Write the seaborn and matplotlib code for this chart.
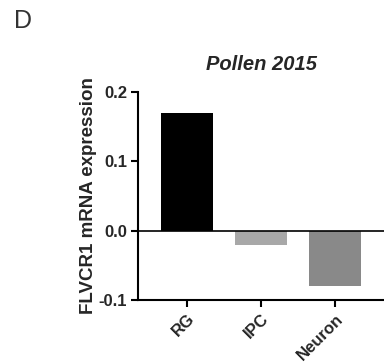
import matplotlib
matplotlib.use("Agg")
import matplotlib.pyplot as plt
import seaborn as sns
import pandas as pd

# Cell-type expression values
cell_types = ["RG", "IPC", "Neuron"]
expression = [0.17, -0.02, -0.08]
bar_colors = ["#000000", "#a8a8a8", "#898989"]
y_ticks = [-0.1, 0.0, 0.1, 0.2]
y_tick_labels = ["-0.1", "0.0", "0.1", "0.2"]

sns.set_theme(style="ticks")
plt.rcParams["font.family"] = ["Liberation Sans", "DejaVu Sans"]

df = pd.DataFrame({"cell": cell_types, "value": expression})

fig = plt.figure(figsize=(3.84, 3.62), dpi=100)
ax = fig.add_axes([138 / 384, 1 - 300 / 362, 1 - 138 / 384, (300 - 92) / 362])

sns.barplot(data=df, x="cell", y="value", hue="cell", palette=bar_colors,
            width=0.7, legend=False, ax=ax, saturation=1, edgecolor="none")

ax.axhline(0, color="black", lw=1.2, zorder=3)
ax.set_xlim(-0.66, 2.66)
ax.set_ylim(-0.1, 0.2)
ax.set_yticks(y_ticks)
ax.set_yticklabels(y_tick_labels, fontsize=12, fontweight="bold")
ax.set_xticks(range(len(cell_types)))
ax.set_xticklabels(cell_types, fontsize=12, fontweight="bold",
                   rotation=45, ha="right", rotation_mode="anchor")
ax.tick_params(axis="both", length=5, width=1.5, color="black", pad=3)
ax.set_xlabel("")
ax.set_ylabel("FLVCR1 mRNA expression", fontsize=13.5, fontweight="bold", labelpad=1)
for s in ["left", "bottom"]:
    ax.spines[s].set_linewidth(1.5)
    ax.spines[s].set_color("black")
sns.despine(ax=ax)

ax.set_title("Pollen 2015", fontsize=14.5, fontweight="bold", style="italic", pad=16)
fig.text(14 / 384, 1 - 21 / 362, "D", fontsize=18, color="#333333", va="center", ha="left")

fig.savefig("out.png", dpi=100)
